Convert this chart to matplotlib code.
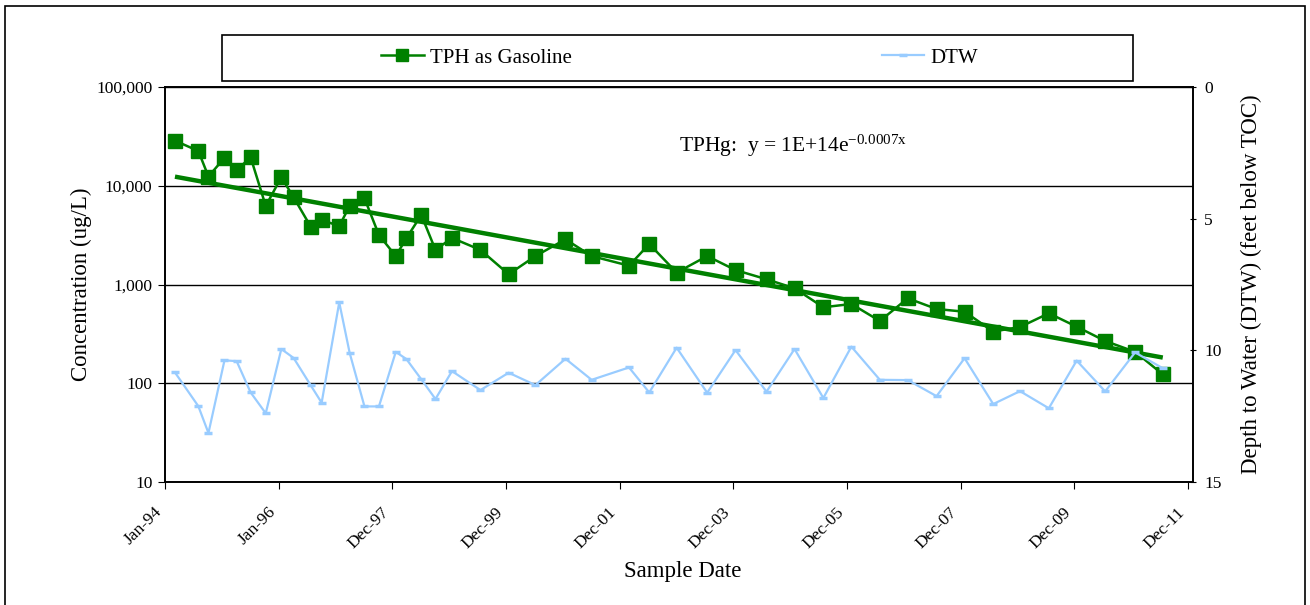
"""
TPH as Gasoline concentration and depth to water over time
"""
import numpy as np
import pandas as pd
import matplotlib
matplotlib.use('Agg')
import matplotlib.pyplot as plt
import matplotlib.dates as mdates
from matplotlib.patches import Rectangle
from matplotlib.lines import Line2D
from matplotlib.ticker import FuncFormatter, FixedLocator

################################################################################
# Data
################################################################################
sample_dates = [
    '1994-03-06', '1994-08-03', '1994-10-07', '1995-01-18', '1995-04-06',
    '1995-07-05', '1995-10-10', '1996-01-18', '1996-04-06', '1996-07-25',
    '1996-10-03', '1997-01-24', '1997-04-01', '1997-07-05', '1997-10-06',
    '1998-01-22', '1998-03-31', '1998-07-05', '1998-10-04', '1999-01-18',
    '1999-07-20', '2000-01-17', '2000-07-07', '2001-01-16', '2001-07-03',
    '2002-02-28', '2002-07-08', '2002-12-31', '2003-07-15', '2004-01-13',
    '2004-07-30', '2005-01-26', '2005-07-30', '2006-01-26', '2006-07-28',
    '2007-01-23', '2007-07-27', '2008-01-23', '2008-07-25', '2009-01-13',
    '2009-07-17', '2010-01-12', '2010-07-14', '2011-01-22', '2011-07-19']

tph_gasoline = [
    28600, 22500, 12400, 19200, 14400, 19400, 6240, 12200, 7640, 3850,
    4500, 3910, 6240, 7470, 3170, 1940, 2940, 5060, 2240, 2960,
    2240, 1270, 1940, 2870, 1940, 1550, 2570, 1320, 1940, 1400,
    1130, 916, 588, 635, 427, 725, 565, 530, 334, 371,
    511, 374, 268, 208, 123]

dtw_feet = [
    10.84, 12.12, 13.14, 10.38, 10.41, 11.60, 12.39, 9.95, 10.29, 11.33,
    11.99, 8.18, 10.10, 12.13, 12.13, 10.06, 10.33, 11.10, 11.85, 10.79,
    11.51, 10.85, 11.32, 10.32, 11.12, 10.65, 11.60, 9.90, 11.61, 9.99,
    11.57, 9.95, 11.81, 9.86, 11.12, 11.13, 11.74, 10.30, 12.04, 11.55,
    12.20, 10.39, 11.56, 10.08, 10.68]

# exponential trendline endpoints (straight on log axis)
trend_dates  = ['1994-03-06', '2011-07-19']
trend_values = [12360, 182]

xtick_labels = ['Jan-94', 'Jan-96', 'Dec-97', 'Dec-99', 'Dec-01',
                'Dec-03', 'Dec-05', 'Dec-07', 'Dec-09', 'Dec-11']
conc_ticks   = [10, 100, 1000, 10000, 100000]
dtw_ticks    = [0, 5, 10, 15]

################################################################################
# Style
################################################################################
plt.rcParams['font.family'] = ['Liberation Serif', 'DejaVu Serif']
GREEN = '#008000'
BLUE  = '#99CCFF'

W, H = 1310, 605
fig = plt.figure(figsize = (W / 100, H / 100), dpi = 100)

# outer chart border
fig.patches.append(Rectangle((5 / W, -0.02), 1300 / W, 1.02 - 6 / H,
                             transform = fig.transFigure, fill = False,
                             edgecolor = 'black', linewidth = 1.2))

ax = fig.add_axes([165 / W, 1 - 482 / H, (1193 - 165) / W, (482 - 87) / H])
ax2 = ax.twinx()

x      = mdates.date2num(pd.to_datetime(sample_dates))
x_tr   = mdates.date2num(pd.to_datetime(trend_dates))
x0     = mdates.date2num(pd.Timestamp('1994-01-01'))

########################################
# Series
########################################
ax.plot(x, tph_gasoline, color = GREEN, lw = 1.8, marker = 's',
        markersize = 9.5, markeredgecolor = GREEN, zorder = 3)
ax.plot(x_tr, trend_values, color = GREEN, lw = 3.2, zorder = 4,
        solid_capstyle = 'butt')

ax2.plot(x, dtw_feet, color = BLUE, lw = 1.6, marker = '_',
         markersize = 6, markeredgewidth = 2.5, zorder = 3)

########################################
# Axes
########################################
ax.set_yscale('log')
ax.set_ylim(10, 100000)
ax.yaxis.set_major_locator(FixedLocator(conc_ticks))
ax.yaxis.set_minor_locator(FixedLocator([]))
ax.yaxis.set_major_formatter(FuncFormatter(lambda v, p: f'{v:,.0f}'))
ax.grid(axis = 'y', color = 'black', lw = 1)

ax.set_xlim(x0, x0 + 6602)
ax.set_xticks(x0 + 730 * np.arange(len(xtick_labels)))
ax.set_xticklabels(xtick_labels, rotation = 45, ha = 'right', va = 'top')

ax2.set_ylim(15, 0)
ax2.set_yticks(dtw_ticks)

ax.tick_params(axis = 'y', labelsize = 12.5, length = 5, direction = 'out', pad = 4)
ax.tick_params(axis = 'x', labelsize = 12.5, length = 5, direction = 'out', pad = 11)
ax2.tick_params(axis = 'y', labelsize = 12.5, length = 4, direction = 'inout', pad = 6)

for a in (ax, ax2):
    for sp in a.spines.values():
        sp.set_color('black')
        sp.set_linewidth(1.2)

ax.set_ylabel('Concentration (ug/L)', fontsize = 16.5, labelpad = 3)
ax2.set_ylabel('Depth to Water (DTW) (feet below TOC)', fontsize = 16.5,
               labelpad = 14)
fig.text(683 / W, 1 - 572 / H, 'Sample Date', fontsize = 16.5,
         ha = 'center', va = 'center')

ax.text(679 / W, 1 - 146 / H,
        r'TPHg:  y = 1E+14e$\mathregular{^{-0.0007x}}$',
        transform = fig.transFigure, fontsize = 15.5, va = 'center', ha = 'left')

########################################
# Legend
########################################
fig.patches.append(Rectangle((222 / W, 1 - 81 / H), (1133 - 222) / W, 46 / H,
                             transform = fig.transFigure, fill = False,
                             edgecolor = 'black', linewidth = 1.2))
h_tph = Line2D([], [], color = GREEN, lw = 1.8, marker = 's', markersize = 8)
h_dtw = Line2D([], [], color = BLUE, lw = 1.6, marker = '_', markersize = 6,
               markeredgewidth = 2.5)
fig.legend([h_tph], ['TPH as Gasoline'], loc = 'center', frameon = False,
           bbox_to_anchor = (476 / W, 1 - 58 / H), fontsize = 15,
           handlelength = 2.1, handletextpad = 0.25)
fig.legend([h_dtw], ['DTW'], loc = 'center', frameon = False,
           bbox_to_anchor = (930 / W, 1 - 58 / H), fontsize = 15,
           handlelength = 2.0, handletextpad = 0.3)

fig.savefig('out.png', dpi = 100)
